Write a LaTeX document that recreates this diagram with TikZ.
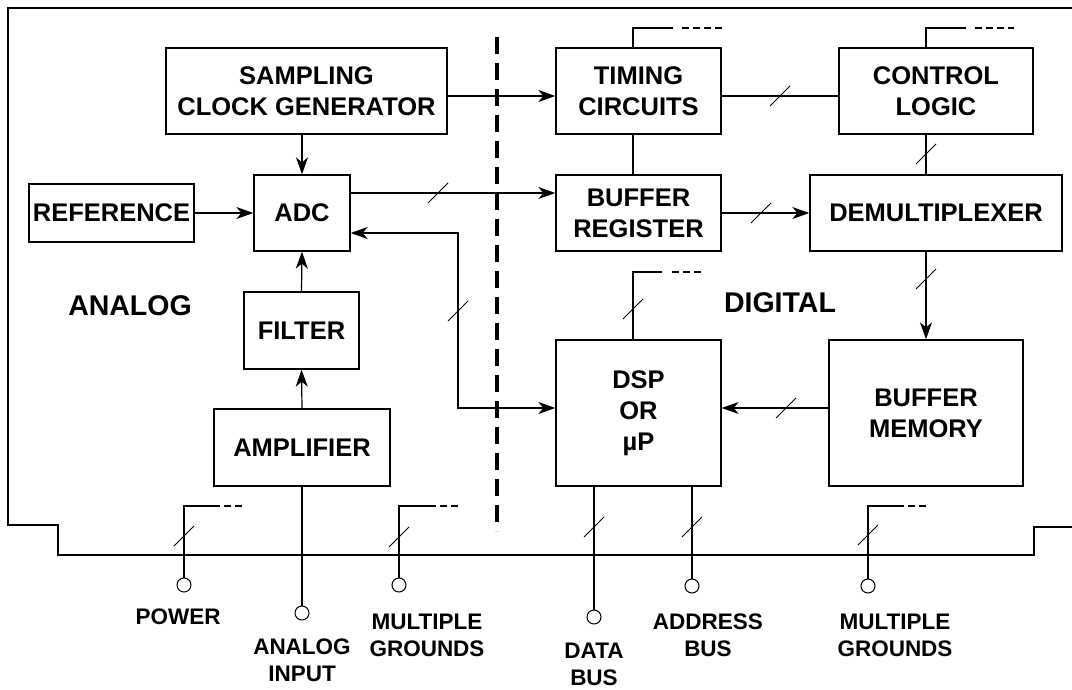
\documentclass[tikz,border=0pt]{standalone}
\usepackage{fontspec}
\setmainfont{Liberation Sans}
\usetikzlibrary{arrows.meta}

\begin{document}
\begin{tikzpicture}[x=1pt,y=-1pt,
  block/.style={draw,line width=1.3pt,align=center,inner sep=0pt,font=\bfseries\fontsize{25.5}{31}\selectfont},
  wire/.style={line width=1.2pt},
  flow/.style={wire,-{Stealth[length=17pt,width=12pt,inset=5pt]}},
  twoway/.style={wire,{Stealth[length=17pt,width=12pt,inset=5pt]}-{Stealth[length=17pt,width=12pt,inset=5pt]}},
  stub/.style={line width=1.2pt,dash pattern=on 7pt off 4pt},
  term/.style={draw,circle,line width=1pt,minimum size=14pt,inner sep=0pt},
  pinlabel/.style={align=center,font=\bfseries\fontsize{22.5}{27}\selectfont},
  side/.style={font=\bfseries\fontsize{28.5}{34}\selectfont},
  buswidth/.pic={\draw[line width=1pt] (-10,10) -- (10,-10);}
]
\useasboundingbox (0,0) rectangle (1072,690);

% housing and analog/digital split
\draw[wire] (1072,8) -- (8,8) -- (8,525) -- (58,525) -- (58,555) -- (1034,555) -- (1034,527) -- (1072,527);
\draw[line width=3.5pt,dash pattern=on 17pt off 9pt] (497,37) -- (497,531);
\node[side] (analog) at (130,306) {ANALOG};
\node[side] (digital) at (780,303) {DIGITAL};

% blocks
\node[block,minimum width=281pt,minimum height=86pt] (scg) at (306.5,91) {SAMPLING\\CLOCK GENERATOR};
\node[block,minimum width=96pt,minimum height=76pt] (adc) at (302,213) {ADC};
\node[block,minimum width=165pt,minimum height=58pt] (ref) at (111.5,213) {REFERENCE};
\node[block,minimum width=115pt,minimum height=77pt] (filter) at (301.5,330.5) {FILTER};
\node[block,minimum width=176pt,minimum height=77pt] (amp) at (302,447.5) {AMPLIFIER};
\node[block,minimum width=165pt,minimum height=86pt] (timing) at (638.5,91) {TIMING\\CIRCUITS};
\node[block,minimum width=194pt,minimum height=86pt] (control) at (936,91) {CONTROL\\LOGIC};
\node[block,minimum width=165pt,minimum height=76pt] (bufreg) at (638.5,213) {BUFFER\\REGISTER};
\node[block,minimum width=252pt,minimum height=76pt] (demux) at (936,213) {DEMULTIPLEXER};
\node[block,minimum width=165pt,minimum height=146pt] (dsp) at (638.5,413) {DSP\\OR\\µP};
\node[block,minimum width=194pt,minimum height=146pt] (bufmem) at (926,413) {BUFFER\\MEMORY};

% signal flow
\draw[flow] (scg.east |- 0,96) -- (timing.west |- 0,96);
\draw[flow] (adc.north |- scg.south) -- (adc.north);
\draw[flow] (ref.east) -- (adc.west);
\draw[flow] (filter.north) -- (adc.south);
\draw[flow] (amp.north) -- (filter.south);
\draw[flow] (adc.east |- 0,193) -- (bufreg.west |- 0,193);
\pic at (438,193) {buswidth};
\draw[twoway] (dsp.west |- 0,408) -| (458,233) -- (adc.east |- 0,233);
\pic at (458,311) {buswidth};
\draw[wire] (timing.south -| 633,0) -- (bufreg.north -| 633,0);
\draw[wire] (timing.east |- 0,96) -- (control.west |- 0,96);
\pic at (780,96) {buswidth};
\draw[wire] (control.south -| 926,0) -- (demux.north -| 926,0);
\pic at (926,154) {buswidth};
\draw[flow] (bufreg.east) -- (demux.west);
\pic at (761,213) {buswidth};
\draw[flow] (demux.south -| 926,0) -- (bufmem.north);
\pic at (926,279) {buswidth};
\draw[flow] (bufmem.west |- 0,408) -- (dsp.east |- 0,408);
\pic at (786,408) {buswidth};

% open-ended lines
\draw[wire] (timing.north -| 633,0) -- (633,28) -- (673,28);
\draw[stub] (682,28) -- (722,28);
\draw[wire] (control.north -| 926,0) -- (926,28) -- (966,28);
\draw[stub] (975,28) -- (1014,28);
\draw[wire] (dsp.north -| 633,0) -- (633,272) -- (662,272);
\draw[stub] (672,272) -- (702,272);
\pic at (633,309) {buswidth};

% pins
\node[term] (power) at (184,585) {};
\node[term] (ain) at (302,613) {};
\node[term] (gnda) at (399,585) {};
\node[term] (dbus) at (594,617) {};
\node[term] (abus) at (692,586) {};
\node[term] (gndd) at (868,586) {};
\draw[wire] (power.north) -- (184,506) -- (213,506);
\draw[stub] (213,506) -- (243,506);
\pic at (184,536) {buswidth};
\draw[wire] (amp.south) -- (ain.north);
\draw[wire] (gnda.north) -- (399,506) -- (429,506);
\draw[stub] (429,506) -- (458,506);
\pic at (399,537) {buswidth};
\draw[wire] (dsp.south -| dbus) -- (dbus.north);
\pic at (594,527) {buswidth};
\draw[wire] (dsp.south -| abus) -- (abus.north);
\pic at (692,527) {buswidth};
\draw[wire] (gndd.north) -- (868,506) -- (897,506);
\draw[stub] (897,506) -- (927,506);
\pic at (868,535) {buswidth};

\node[pinlabel] (powerlbl) at (178,617) {POWER};
\node[pinlabel] (ainlbl) at (302,660) {ANALOG\\INPUT};
\node[pinlabel] (gndalbl) at (427,635) {MULTIPLE\\GROUNDS};
\node[pinlabel] (dbuslbl) at (594,664) {DATA\\BUS};
\node[pinlabel] (abuslbl) at (708,635) {ADDRESS\\BUS};
\node[pinlabel] (gnddlbl) at (895,635) {MULTIPLE\\GROUNDS};
\end{tikzpicture}
\end{document}
